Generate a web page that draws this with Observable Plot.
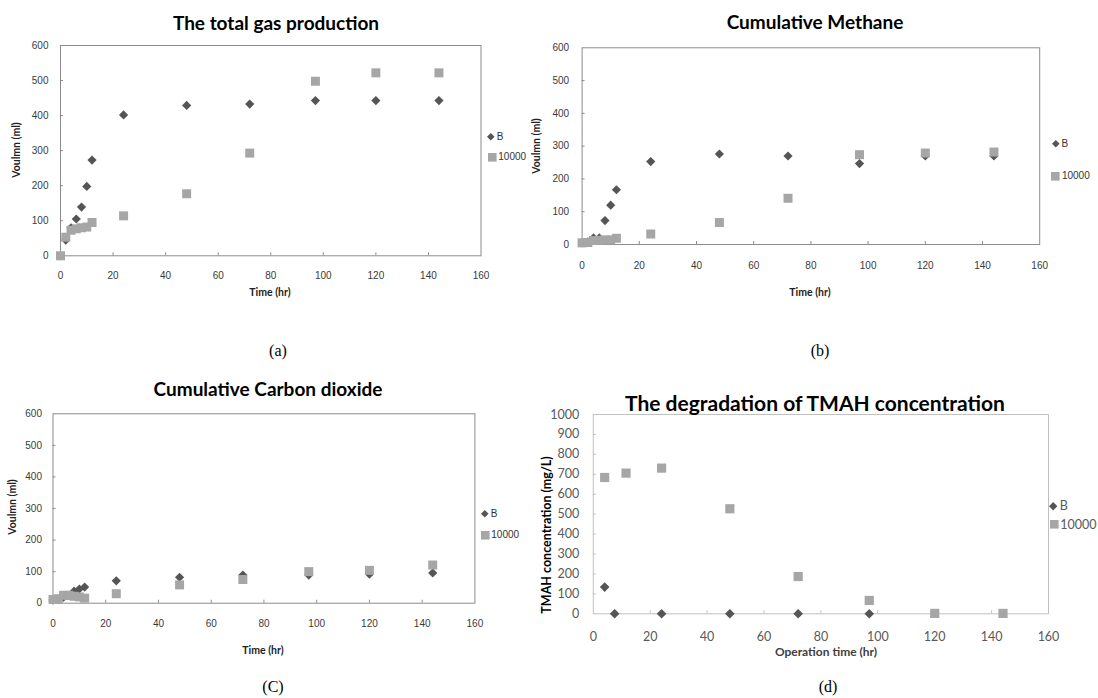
<!DOCTYPE html>
<html><head><meta charset="utf-8">
<script src="https://cdn.jsdelivr.net/npm/d3@7"></script>
<script src="https://cdn.jsdelivr.net/npm/@observablehq/plot@0.6"></script>
<style>
body{margin:0;background:#fff;}
#root{position:relative;width:1098px;height:698px;overflow:hidden;background:#fff;}
.t{position:absolute;white-space:nowrap;line-height:1;}
.plot{position:absolute;}
</style></head><body><div id="root"></div>
<script>
// ---- data ----
const seriesNames = ["B", "10000"];
const gasTimes = [0, 2, 4, 6, 8, 10, 12, 24, 48, 72, 97, 120, 144];
const totalB     = [0, 45, 80, 105, 139, 198, 273, 402, 429, 433, 443, 443, 443];
const total10000 = [0, 53, 73, 77, 80, 82, 95, 114, 177, 293, 498, 522, 522];
const methaneB     = [5, 8, 20, 20, 73, 120, 167, 253, 276, 270, 247, 270, 270];
const methane10000 = [5, 6, 12, 13, 14, 14, 19, 32, 67, 141, 274, 279, 282];
const co2B     = [10, 14, 19, 25, 38, 45, 51, 71, 82, 89, 89, 92, 96];
const co210000 = [12, 14, 25, 25, 22, 20, 16, 30, 58, 75, 100, 104, 121];
const tmahTimesB = [4, 7.5, 24, 48, 72, 97];
const tmahB      = [134, 0, 0, 0, 0, 0];
const tmahTimes10000 = [4, 11.5, 24, 48, 72, 97, 120, 144];
const tmah10000      = [684, 706, 731, 527, 187, 67, 2, 2];
const xTicks = [0, 20, 40, 60, 80, 100, 120, 140, 160];
const yTicksVol = [0, 100, 200, 300, 400, 500, 600];
const yTicksTmah = [0, 100, 200, 300, 400, 500, 600, 700, 800, 900, 1000];

const colorB = "#555555", color10000 = "#a6a6a6";
const diamondSym = {draw(ctx, size){ const r = Math.sqrt(size/Math.PI); ctx.moveTo(0,-r); ctx.lineTo(r,0); ctx.lineTo(0,r); ctx.lineTo(-r,0); ctx.closePath(); }};
const squareSym = {draw(ctx, size){ const r = Math.sqrt(size/Math.PI); ctx.rect(-r,-r,2*r,2*r); }};

const root = document.getElementById("root");
function text(str, x, y, css, rot){
  const d = document.createElement("div");
  d.className = "t"; d.textContent = str;
  d.style.left = x + "px"; d.style.top = y + "px";
  d.style.transform = "translate(-50%,-50%)" + (rot ? " rotate(" + rot + "deg)" : "");
  Object.assign(d.style, css);
  root.appendChild(d);
}
function legendItem(sym, cx, cy, r, color, label, css){
  const s = 2*r + 2;
  const svg = d3.create("svg").attr("width", s).attr("height", s)
    .style("position","absolute").style("left", (cx - s/2) + "px").style("top", (cy - s/2) + "px");
  svg.append("path").attr("transform", `translate(${s/2},${s/2})`)
    .attr("d", d3.symbol(sym, Math.PI*r*r)()).attr("fill", color);
  root.appendChild(svg.node());
  const d = document.createElement("div");
  d.className = "t"; d.textContent = label;
  d.style.left = (cx + r + 2) + "px"; d.style.top = cy + "px"; d.style.transform = "translate(0,-50%)";
  Object.assign(d.style, css);
  root.appendChild(d);
}

function panel(cfg){
  const rowsB = cfg.xB.map((x,i)=>({x, y: cfg.yB[i]}));
  const rowsS = cfg.xS.map((x,i)=>({x, y: cfg.yS[i]}));
  const innerW = cfg.w - cfg.ml - cfg.mr, innerH = cfg.h - cfg.mt - cfg.mb;
  const p = Plot.plot({
    width: cfg.w, height: cfg.h,
    marginLeft: cfg.ml, marginRight: cfg.mr, marginTop: cfg.mt, marginBottom: cfg.mb,
    style: {fontFamily: cfg.font, fontSize: cfg.fs + "px", color: cfg.tickColor, background: "transparent", overflow: "visible"},
    x: {domain: [0, 160], label: null},
    y: {domain: [0, cfg.ymax], label: null},
    marks: [
      Plot.tickX(xTicks.slice(1, -1), {x: d => d, stroke: cfg.frame, insetTop: innerH - 3}),
      Plot.tickY(cfg.yTicks.slice(1, -1), {y: d => d, stroke: cfg.frame, insetRight: innerW - 3}),
      Plot.frame({stroke: cfg.frame}),
      Plot.axisX({ticks: xTicks, tickSize: 0, tickPadding: cfg.xpad, label: null, tickFormat: d => String(d)}),
      Plot.axisY({ticks: cfg.yTicks, tickSize: 0, tickPadding: cfg.ypad, label: null, tickFormat: d => String(d)}),
      Plot.dot(rowsB, {x: "x", y: "y", symbol: diamondSym, r: cfg.rB, fill: colorB, stroke: "none"}),
      Plot.dot(rowsS, {x: "x", y: "y", symbol: squareSym, r: cfg.rS, fill: color10000, stroke: "none"})
    ]
  });
  p.classList.add("plot");
  p.style.left = cfg.left + "px"; p.style.top = cfg.top + "px";
  root.appendChild(p);
}

const smallFont = "'Liberation Sans', Arial, sans-serif";
const titleCss = {fontFamily: "Lato, 'Open Sans', sans-serif", fontWeight: "bold", fontSize: "19px", color: "#000"};
const axCss = {fontFamily: "Lato, 'Open Sans', sans-serif", fontWeight: "bold", fontSize: "10.5px", color: "#222"};
const legCss = {fontFamily: smallFont, fontSize: "10px", color: "#333"};
const capCss = {fontFamily: "'Liberation Serif', 'Times New Roman', serif", fontSize: "16px", color: "#000"};

// (a)
panel({left: 0, top: 0, w: 549, h: 320, ml: 60, mr: 68.5, mt: 45, mb: 64.7, ymax: 600, yTicks: yTicksVol,
  font: smallFont, fs: 10, tickColor: "#3a3a3a", frame: "#8c8c8c", xpad: 16, ypad: 12,
  xB: gasTimes, yB: totalB, xS: gasTimes, yS: total10000, rB: 4.6, rS: 4.5});
text("The total gas production", 276, 22, titleCss);
text("Time (hr)", 270, 292, axCss);
text("Voulmn (ml)", 16, 150, axCss, -90);
legendItem(diamondSym, 491, 137, 3.8, colorB, seriesNames[0], legCss);
legendItem(squareSym, 492, 157, 4.3, color10000, seriesNames[1], legCss);

// (b)
panel({left: 549, top: 0, w: 549, h: 320, ml: 32.6, mr: 58.8, mt: 47.3, mb: 76, ymax: 600, yTicks: yTicksVol,
  font: smallFont, fs: 10, tickColor: "#3a3a3a", frame: "#8c8c8c", xpad: 17, ypad: 13,
  xB: gasTimes, yB: methaneB, xS: gasTimes, yS: methane10000, rB: 4.6, rS: 4.5});
text("Cumulative Methane", 815, 21, titleCss);
text("Time (hr)", 810, 292, axCss);
text("Voulmn (ml)", 536, 146, axCss, -90);
legendItem(diamondSym, 1055.6, 144, 3.8, colorB, seriesNames[0], legCss);
legendItem(squareSym, 1055.6, 176, 4.3, color10000, seriesNames[1], legCss);

// (c)
panel({left: 0, top: 340, w: 549, h: 358, ml: 52.5, mr: 74.6, mt: 73.3, mb: 95.3, ymax: 600, yTicks: yTicksVol,
  font: smallFont, fs: 10, tickColor: "#3a3a3a", frame: "#8c8c8c", xpad: 17, ypad: 11,
  xB: gasTimes, yB: co2B, xS: gasTimes, yS: co210000, rB: 4.6, rS: 4.5});
text("Cumulative Carbon dioxide", 268, 388, titleCss);
text("Time (hr)", 263, 650, axCss);
text("Voulmn (ml)", 12, 507, axCss, -90);
legendItem(diamondSym, 485, 514, 3.8, colorB, seriesNames[0], legCss);
legendItem(squareSym, 485, 535, 4.3, color10000, seriesNames[1], legCss);

// (d)
panel({left: 549, top: 340, w: 549, h: 358, ml: 43.8, mr: 50, mt: 74, mb: 84.7, ymax: 1000, yTicks: yTicksTmah,
  font: "Lato, 'Open Sans', sans-serif", fs: 12.5, tickColor: "#595959", frame: "#c0c0c0", xpad: 18, ypad: 14,
  xB: tmahTimesB, yB: tmahB, xS: tmahTimes10000, yS: tmah10000, rB: 4.8, rS: 4.6});
text("The degradation of TMAH concentration", 815, 402, Object.assign({}, titleCss, {fontSize: "21px"}));
text("Operation time (hr)", 826, 652, Object.assign({}, axCss, {fontSize: "12px", color: "#404040"}));
text("TMAH concentration (mg/L)", 547, 535, Object.assign({}, axCss, {fontSize: "12.5px", color: "#000"}), -90);
legendItem(diamondSym, 1053.5, 505.7, 4.2, colorB, seriesNames[0], {fontFamily: "Lato, sans-serif", fontSize: "12.5px", color: "#595959"});
legendItem(squareSym, 1054, 524.5, 4.3, color10000, seriesNames[1], {fontFamily: "Lato, sans-serif", fontSize: "12.5px", color: "#595959"});

// captions
text("(a)", 278, 351, capCss);
text("(b)", 820, 351, capCss);
text("(C)", 273, 687, capCss);
text("(d)", 828, 687, capCss);
</script></body></html>
